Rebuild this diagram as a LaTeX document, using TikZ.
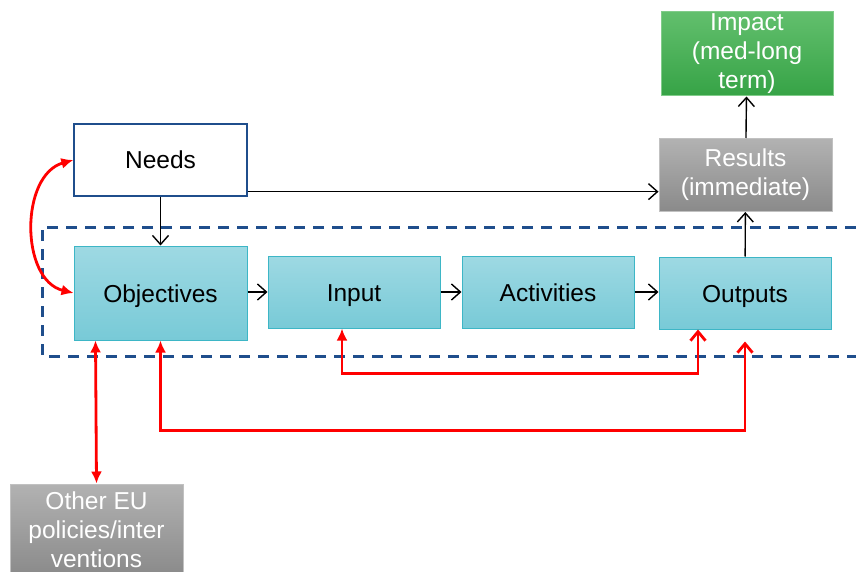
\documentclass[tikz,border=0pt]{standalone}
\usepackage{fontspec}
\setmainfont{Liberation Sans}
\usetikzlibrary{arrows.meta}
\definecolor{tealtop}{HTML}{9ED9E3}
\definecolor{tealbot}{HTML}{78CAD7}
\definecolor{tealline}{HTML}{3DB6C6}
\definecolor{greytop}{HTML}{B2B2B2}
\definecolor{greybot}{HTML}{8A8A8A}
\definecolor{greentop}{HTML}{62BF6D}
\definecolor{greenbot}{HTML}{36A346}
\definecolor{needline}{HTML}{1F4E8C}
\definecolor{dashblue}{HTML}{1F4E8C}

\begin{document}
\begin{tikzpicture}[x=1pt,y=-1pt,
    box/.style={rectangle, minimum width=173pt, inner sep=0pt, align=center,
        font=\fontsize{24.5}{29}\selectfont},
    single/.style={text height=18pt, text depth=0pt},
    plain/.style={box, single, draw=needline, line width=1.3pt, fill=white},
    stage/.style={box, single, draw=tealline, line width=1pt, top color=tealtop, bottom color=tealbot},
    grey/.style={box, draw=greytop!80!white, line width=1pt, top color=greytop, bottom color=greybot, text=white},
    green/.style={box, draw=greentop!80!white, line width=1pt, top color=greentop, bottom color=greenbot, text=white},
    flow/.style={line width=1.4pt, -{Straight Barb[length=9pt,width=16pt]}},
    back/.style={red, line width=2.8pt},
    redtip/.tip={Latex[length=12pt,width=11pt]},
    redbarb/.tip={Straight Barb[length=9pt,width=15pt]},
    frame/.style={dashblue, line width=3pt, dash pattern=on 11pt off 8pt}]
    \useasboundingbox (0,0) rectangle (856,572);

    % evaluation frame
    \draw[frame] (856,227) -| (42,356) -- (856,356);

    % boxes
    \node[plain, minimum height=72pt] (needs) at (160.5,160) {Needs};
    \node[stage, minimum height=94pt] (objectives) at (160.5,293) {Objectives};
    \node[stage, minimum height=72pt, minimum width=172pt] (input) at (354,292) {Input};
    \node[stage, minimum height=72pt, minimum width=172pt] (activities) at (548,292) {Activities};
    \node[stage, minimum height=72pt, minimum width=172pt] (outputs) at (745,293) {Outputs};
    \node[grey, minimum height=73pt] (results) at (745.5,175) {Results\\(immediate)};
    \node[green, minimum height=84pt, minimum width=172pt] (impact) at (747,54) {Impact\\(med-long\\term)};
    \node[grey, minimum height=92pt] (other) at (96.5,530) {Other EU\\policies/inter\\ventions};

    % black flow
    \draw[flow] (needs) -- (objectives);
    \draw[flow] (objectives.east |- input) -- (input);
    \draw[flow] (input) -- (activities);
    \draw[flow] (activities) -- (outputs.west |- activities);
    \draw[flow] (outputs) -- (results);
    \draw[flow] (results) -- (impact);
    \draw[flow] ([yshift=5pt]needs.south east) -- ([yshift=5pt]needs.south east -| results.west);

    % red feedback
    \draw[back, {redtip}-{redtip}]
        (needs.west) .. controls (20,175) and (20,280) .. (objectives.west);
    \draw[back, {redtip}-{redbarb}]
        ([xshift=-12pt]input.south) -- ++(0,45) -| ([xshift=-47pt]outputs.south);
    \draw[back, {redtip}-{redbarb}]
        (objectives.south) -- ++(0,90) -| ([yshift=-12pt]outputs.south);
    \draw[back, {redtip}-{redtip}]
        ([xshift=-65pt]objectives.south) -- (other.north);
\end{tikzpicture}
\end{document}
